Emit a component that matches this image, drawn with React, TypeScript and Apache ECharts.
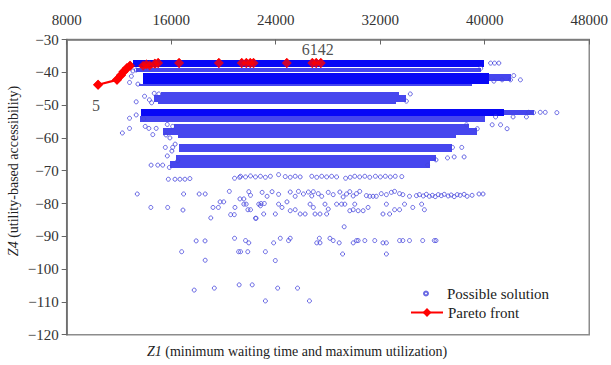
import React, { useEffect, useRef } from 'react';
import * as echarts from 'echarts';

const FONT = "'Liberation Serif', 'DejaVu Serif', serif";

const xMin = 8000;
const xMax = 48000;
const xStep = 8000;
const yMin = -120;
const yMax = -30;
const yStep = 10;

const seriesNames = ['Possible solution', 'Pareto front'];
const xTitle = '{i|Z1} (minimum waiting time and maximum utilization)';
const yTitle = '{i|Z4} (utility-based accessibility)';
const paretoLabels = ['5', '6142'];

// dense solution bands: [x from, x to, y top, y bottom]
const denseBands = [
  [13075, 39950, -36.2, -38.5],
  [13840, 40330, -40.1, -43.6],
  [13660, 41450, -51.3, -53.3],
];

// less dense (textured) solution bands: [x from, x to, y top, y bottom]
const texturedBands = [
  [13300, 39700, -38.6, -39.8],
  [13500, 39000, -43.6, -44.3],
  [40330, 42000, -40.5, -42.8],
  [15200, 33400, -46.0, -47.0],
  [14650, 33980, -47.0, -49.0],
  [15000, 33200, -49.0, -49.8],
  [13600, 40000, -53.3, -55.0],
  [41450, 43740, -51.5, -53.0],
  [16200, 38800, -55.8, -56.9],
  [15340, 39400, -56.9, -59.2],
  [16500, 37800, -59.2, -60.1],
  [16600, 37500, -61.9, -64.3],
  [16380, 36300, -65.2, -67.0],
  [15900, 35800, -67.0, -69.2],
];

const upperOutliers = [
  [13320, -49.0], [13960, -47.3], [14330, -48.4], [12810, -54.0], [13320, -53.0],
  [13900, -54.2], [12810, -57.1], [12260, -58.5], [14010, -56.5], [14290, -57.1],
  [14850, -57.1], [14590, -59.0], [15600, -59.1], [16110, -56.5], [15550, -62.9],
  [16110, -62.9], [14460, -68.3], [14970, -68.3], [15350, -68.3], [16500, -67.0],
  [15860, -69.0], [12950, -41.2], [12810, -43.1], [13450, -43.6], [13070, -39.6],
  [13320, -39.3], [14700, -46.4], [15050, -46.6], [14500, -49.3], [15700, -55.9],
  [15900, -60.0], [16300, -61.9], [16050, -64.0], [15700, -65.5],
];

const edgeDots = [
  [40450, -37.2], [40750, -37.2], [41080, -37.2], [39690, -38.8],
  [42730, -42.3], [41970, -42.3], [41330, -42.3], [42220, -41.0], [40700, -42.7],
  [43360, -52.2], [43740, -52.3], [44250, -52.2], [44630, -52.2], [45520, -52.3],
  [42170, -53.6], [43190, -53.6], [40830, -53.6],
  [40570, -56.0], [41210, -56.0], [41710, -57.2], [39430, -57.2], [38600, -56.0],
  [38240, -62.9], [37530, -62.9],
  [37150, -66.1], [37660, -65.8], [38420, -65.8], [36270, -66.7], [35630, -68.3],
  [34300, -46.6], [34000, -48.8],
];

const row72 = [
  [15780, -72.6], [16290, -72.6], [16670, -72.6], [17050, -72.6], [17430, -72.4],
  [20850, -72.3], [21240, -72.0], [21310, -71.7], [21690, -71.9], [22070, -71.6],
  [22450, -71.9], [22830, -71.7], [23210, -72.0], [23590, -71.7], [24220, -71.2],
  [24730, -71.8], [25110, -72.0], [25490, -71.7], [25870, -71.9], [26760, -71.7],
  [27140, -72.0], [27520, -71.7], [27900, -71.9], [28280, -71.7], [28660, -71.9],
  [29350, -72.3], [29700, -72.0], [30050, -71.7], [30430, -71.9], [30820, -71.7],
  [31200, -72.0], [31630, -71.7], [32010, -71.9], [32390, -71.7], [32770, -71.9],
  [33150, -71.7], [33650, -71.8],
];

const row77 = [
  [13400, -77.1], [16950, -77.1], [18140, -77.1], [18600, -77.1], [20450, -76.3],
  [21260, -78.6], [21940, -76.4], [22070, -77.5], [22960, -76.6], [23340, -77.8],
  [23720, -76.4], [24220, -77.2], [25110, -76.5], [25490, -77.8], [25740, -76.3],
  [26120, -77.1], [26500, -76.5], [26760, -77.7], [26880, -76.4], [27260, -77.0],
  [27520, -77.8], [28020, -76.6], [28400, -77.3], [28910, -76.5], [29160, -78.0],
  [29420, -77.1], [29670, -76.4], [29930, -77.7], [30180, -77.0], [30430, -76.3],
  [30940, -77.6], [31200, -77.8], [31450, -77.8], [31700, -77.8], [32080, -77.0],
  [32470, -77.3], [32850, -76.6], [33100, -76.3], [33480, -77.0], [33730, -77.3],
  [34240, -77.8], [34770, -77.6], [35000, -77.3], [35300, -77.7], [35530, -77.2],
  [35760, -77.8], [35990, -77.5], [36210, -77.9], [36440, -77.3], [36670, -77.6],
  [36900, -77.2], [37200, -77.7], [37430, -77.4], [37660, -77.9], [37890, -77.3],
  [38120, -77.5], [38420, -77.2], [38650, -77.8], [39030, -77.5], [39560, -77.1],
  [39870, -77.1],
];

const row81 = [
  [14440, -81.2], [15730, -81.2], [16900, -82.0], [19200, -81.2], [19610, -81.2],
  [19740, -79.5], [20020, -79.5], [20880, -81.2], [19030, -84.4], [20550, -83.4],
  [20830, -83.4], [21560, -78.6], [22700, -80.2], [22830, -80.7], [24220, -80.2],
  [24480, -81.2], [22070, -81.9], [24860, -79.5], [23970, -83.2], [23080, -83.2],
  [25110, -82.2], [25490, -81.9], [25870, -83.2], [26250, -83.2], [26630, -80.2],
  [26880, -81.2], [27010, -83.2], [27390, -83.2], [27770, -80.2], [28020, -81.7],
  [27900, -83.2], [28660, -80.2], [29040, -80.2], [29290, -80.2], [29670, -82.2],
  [29930, -81.9], [30050, -80.2], [30310, -82.2], [30690, -82.2], [31070, -81.2],
  [32210, -83.2], [32470, -80.2], [32720, -83.2], [33100, -81.9], [33480, -81.9],
  [33860, -80.2], [34490, -81.2], [22450, -84.5], [35170, -80.2], [35380, -81.9],
  [29240, -87.1], [21560, -80.2], [21740, -80.2], [21870, -81.9], [22500, -84.5],
  [22880, -80.0], [23130, -80.0],
];

const row91 = [
  [17910, -91.4], [18590, -91.4], [20850, -90.6], [21690, -91.3], [21940, -92.0],
  [23840, -92.0], [24350, -90.6], [24980, -91.3], [25110, -90.6], [27140, -92.0],
  [27340, -90.6], [27390, -92.0], [28150, -90.6], [28400, -91.3], [28860, -92.0],
  [29930, -92.0], [30180, -91.3], [30310, -91.3], [30820, -91.3], [31580, -91.3],
  [32210, -92.0], [32470, -92.0], [33480, -91.3], [33730, -91.3], [34240, -91.3],
  [35250, -91.3], [36140, -91.3], [36270, -91.3],
];

const row95 = [
  [16800, -94.7], [21160, -94.7], [21310, -94.7], [21860, -94.7], [23210, -94.7],
  [18600, -97.3], [23970, -97.4], [29120, -95.4], [32470, -95.4],
];

const row106 = [
  [17760, -106.4], [19300, -105.8], [21200, -104.8], [22200, -104.8], [24150, -105.8],
  [25670, -105.8], [23210, -109.7], [26580, -109.7],
];

const pareto = [
  [10400, -43.8], [11850, -42.3], [12150, -40.9], [12350, -39.8], [12600, -38.8],
  [12850, -38.0], [13850, -38.0], [14100, -37.6], [14350, -37.9], [14750, -37.4],
  [15000, -37.2], [16600, -37.2], [19650, -37.2], [21400, -37.2], [21750, -37.2],
  [22050, -37.2], [22300, -37.2], [24850, -37.2], [26800, -37.2], [27100, -37.2],
  [27450, -37.2],
];

const possible = [
  ...upperOutliers, ...edgeDots, ...row72, ...row77, ...row81, ...row91, ...row95, ...row106,
];

const bandRender = (fill: string) => (params: any, api: any) => {
  const a = api.coord([api.value(0), api.value(2)]);
  const b = api.coord([api.value(1), api.value(3)]);
  const x0 = Math.round(a[0]);
  const y0 = Math.round(a[1]);
  const x1 = Math.round(b[0]);
  const y1 = Math.round(b[1]);
  return {
    type: 'rect',
    shape: { x: x0, y: y0, width: x1 - x0, height: y1 - y0 },
    style: { fill },
  };
};

const minus = (v: number) => String(v).replace('-', '\u2212');

export default function App() {
  const ref = useRef<HTMLDivElement>(null);
  useEffect(() => {
    if (!ref.current) return;
    const chart = echarts.init(ref.current, undefined, { renderer: 'svg' });
    const paretoData = pareto.map((p, i) => {
      if (i === 0) {
        return { value: p, label: { show: true, formatter: paretoLabels[0], position: 'bottom', distance: 8, offset: [-2, 0] } };
      }
      if (i === pareto.length - 1) {
        return { value: p, label: { show: true, formatter: paretoLabels[1], position: 'top', distance: 1, offset: [-3, 0] } };
      }
      return { value: p };
    });
    chart.setOption({
      animation: false,
      textStyle: { fontFamily: FONT },
      grid: {
        left: 66.7, right: 19.5, top: 39.5, bottom: 30.3,
        show: true, borderColor: '#8c8c8c', borderWidth: 1.5, backgroundColor: '#fff',
      },
      title: {
        text: xTitle,
        left: 147,
        top: 344,
        padding: 0,
        textStyle: {
          fontSize: 14, fontWeight: 'normal', fontFamily: FONT, color: '#222',
          rich: { i: { fontStyle: 'italic', fontSize: 14, fontFamily: FONT, color: '#222' } },
        },
      },
      graphic: [
        {
          type: 'text',
          x: 13,
          y: 171,
          rotation: Math.PI / 2,
          style: {
            text: yTitle,
            fontSize: 14,
            fontFamily: FONT,
            fill: '#222',
            align: 'center',
            verticalAlign: 'middle',
            rich: { i: { fontStyle: 'italic', fontSize: 14, fontFamily: FONT, fill: '#222' } },
          },
        },
      ],
      legend: [
        {
          data: [seriesNames[0]],
          left: 423, top: 286, itemWidth: 32, itemHeight: 4,
          textStyle: { fontSize: 15, fontFamily: FONT, color: '#222' },
          padding: 0,
        },
        {
          data: [seriesNames[1]],
          left: 410, top: 305, itemWidth: 32, itemHeight: 11,
          textStyle: { fontSize: 15, fontFamily: FONT, color: '#222' },
          padding: 0,
        },
      ],
      xAxis: {
        type: 'value', position: 'top', min: xMin, max: xMax, interval: xStep,
        axisLine: { show: true, lineStyle: { color: '#777', width: 1.5 } },
        axisTick: { show: true, inside: true, length: 5, lineStyle: { color: '#666' } },
        axisLabel: { fontSize: 15, fontFamily: FONT, color: '#333', margin: 12, formatter: (v: number) => String(v) },
        splitLine: { show: false },
      },
      yAxis: {
        type: 'value', min: yMin, max: yMax, interval: yStep,
        axisLine: { show: true, lineStyle: { color: '#666', width: 1.5 } },
        axisTick: { show: true, inside: false, length: 5, lineStyle: { color: '#666' } },
        axisLabel: { fontSize: 15, fontFamily: FONT, color: '#333', margin: 8, formatter: minus },
        splitLine: { show: false },
      },
      series: [
        {
          name: seriesNames[1], type: 'line', data: pareto, z: 1,
          symbol: 'diamond', symbolSize: 10, showSymbol: true,
          lineStyle: { color: '#ff0000', width: 2.2 },
          itemStyle: { color: '#ff0000' },
        },
        {
          type: 'custom', renderItem: bandRender('#4646ee'), data: texturedBands,
          encode: { x: [0, 1], y: [2, 3] }, z: 2, silent: true,
        },
        {
          type: 'custom', renderItem: bandRender('#0808f6'), data: denseBands,
          encode: { x: [0, 1], y: [2, 3] }, z: 2, silent: true,
        },
        {
          name: seriesNames[0], type: 'scatter', data: possible, z: 3,
          symbol: 'circle', symbolSize: 4,
          itemStyle: { color: 'rgba(255,255,255,0)', borderColor: '#4343dc', borderWidth: 1 },
        },
        {
          name: 'pareto-markers', type: 'scatter', data: paretoData, z: 4,
          symbol: 'diamond', symbolSize: 10,
          itemStyle: { color: '#ff0000' },
          label: { fontSize: 16, fontFamily: FONT, color: '#222' },
        },
      ],
    });
    return () => chart.dispose();
  }, []);
  return <div ref={ref} style={{ width: 611, height: 365, position: 'absolute', left: 0, top: 0 }} />;
}
